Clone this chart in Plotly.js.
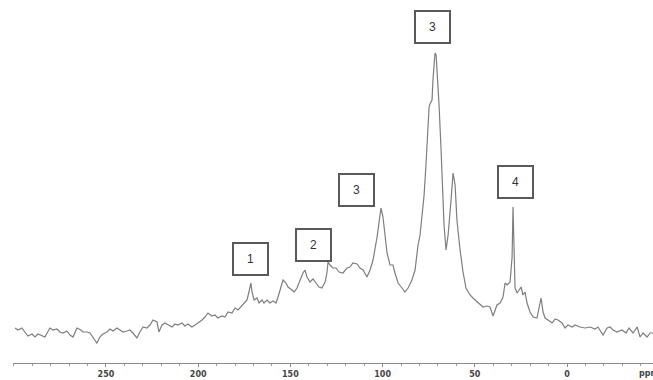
<!DOCTYPE html>
<html>
<head>
<meta charset="utf-8">
<script src="https://cdn.plot.ly/plotly-3.0.1.min.js"></script>
<style>html,body{margin:0;padding:0;background:#fff;}#chart{width:653px;height:380px;}</style>
</head>
<body>
<div id="chart"></div>
<script>
// Chemical shift (ppm)
const ppm = [
  299.3,297.7,295.6,293.9,292.3,290.1,288.5,286.9,284.7,283.1,
  280.4,278.7,276.6,274.9,273.3,271.2,269.5,267.9,265.7,263.6,
  262.5,260.3,258.7,257.0,254.9,253.3,251.6,249.5,247.8,246.2,
  244.0,242.4,240.8,238.6,237.0,235.4,233.2,231.6,229.9,227.8,
  226.1,224.5,222.3,221.3,219.6,218.0,216.4,
  214.2,212.6,211.0,208.8,207.2,205.5,203.4,201.7,200.1,197.9,
  196.3,194.7,192.5,190.9,189.3,187.1,185.5,183.8,181.7,180.0,
  178.4,176.2,174.6,173.5,172.5,171.4,170.8,169.7,168.1,167.0,
  165.4,164.3,162.7,161.1,159.4,157.8,156.7,155.1,154.0,152.4,
  151.3,149.1,148.0,146.4,144.8,143.2,142.1,141.0,139.4,137.7,
  136.1,134.5,132.9,131.2,130.2,129.6,128.5,126.9,125.3,123.6,
  121.5,119.3,117.7,116.1,113.9,112.3,110.6,108.5,106.8,105.2,
  103.0,102.0,100.9,99.8,98.7,97.6,96.0,94.4,93.3,91.6,
  89.5,87.9,86.2,84.1,82.4,80.8,79.7,78.6,77.5,76.5,
  75.4,74.8,74.3,73.2,72.7,72.1,71.6,71.0,70.5,69.4,
  68.3,67.2,66.7,65.6,64.5,62.9,61.8,60.7,59.7,58.0,
  56.4,54.8,52.6,51.0,48.3,
  47.2,45.6,43.4,41.8,40.1,38.0,36.3,34.7,33.6,32.5,
  30.9,29.8,29.3,28.7,28.2,27.1,26.0,24.9,23.9,22.8,
  21.7,20.1,18.4,16.3,15.2,14.1,13.0,11.9,10.3,8.1,
  6.5,4.9,2.7,1.1,-0.5,-2.7,-4.3,-7.0,-9.8,-12.5,
  -15.2,-16.8,-19.5,-21.7,-23.3,-24.9,-27.1,-29.8,-32.0,-33.6,
  -35.8,-38.0,-39.6,-41.2,-43.4,-45.0,-46.6
];
// Signal intensity (arbitrary units)
const intensity = [
  35,33,35,31,27,29,26,29,27,26,
  35,33,34,31,30,32,28,26,35,33,
  31,31,30,25,20,26,29,31,34,32,
  35,33,31,32,33,30,25,31,36,35,
  38,43,41,31,38,40,38,
  36,39,38,40,37,39,36,38,40,43,
  46,50,47,48,45,47,46,51,50,55,
  53,58,61,63,71,80,71,63,65,60,
  63,60,63,60,62,60,66,76,83,80,
  76,73,71,75,83,90,93,86,81,84,
  80,76,75,81,90,101,98,95,95,91,
  90,95,96,100,99,95,93,86,93,103,
  126,143,155,146,126,110,98,98,90,80,
  75,71,75,83,93,118,128,145,168,198,
  238,256,259,263,283,303,310,308,295,258,
  213,163,138,113,128,163,190,178,143,113,
  91,75,68,65,60,
  58,56,57,56,47,58,60,66,80,78,
  81,106,156,106,75,70,73,76,68,71,
  60,51,46,45,55,65,51,45,43,40,
  44,43,40,35,38,36,38,36,35,36,
  34,36,28,35,36,33,31,33,30,35,
  30,36,26,30,26,30,30
];
// Tick labels
const tickVals = [250, 200, 150, 100, 50, 0];
const tickLabels = ['250', '200', '150', '100', '50', '0'];
// Peak labels
const labelText = ['1', '2', '3', '3', '4'];
const labelPpm = [171.4, 137.7, 113.9, 73.2, 28.2];
const labelInt = [104, 118, 173, 336, 181];

const trace = {
  x: ppm, y: intensity, type: 'scatter', mode: 'lines',
  line: {color: '#7e7e7e', width: 1.2}, hoverinfo: 'skip'
};

const annotations = labelText.map((t, i) => ({
  x: labelPpm[i], y: labelInt[i], xref: 'x', yref: 'y',
  text: t, showarrow: false, width: 31, height: 28,
  bordercolor: '#5a5a5a', borderwidth: 2, borderpad: 1, bgcolor: '#ffffff',
  font: {family: 'Liberation Sans, Arial, sans-serif', size: 12, color: '#333'}
}));
annotations.push({
  x: (637 - 13) / 640, xref: 'paper', xanchor: 'left',
  y: 0, yref: 'paper', yanchor: 'top', yshift: -4,
  text: 'ppm', showarrow: false,
  font: {family: 'DejaVu Sans, sans-serif', size: 8, color: '#444', weight: 'bold'}
});

const layout = {
  width: 653, height: 380,
  margin: {l: 13, r: 0, t: 0, b: 17, pad: 0},
  paper_bgcolor: '#ffffff', plot_bgcolor: '#ffffff',
  showlegend: false,
  xaxis: {
    range: [300.4, -46.6], showgrid: false, zeroline: false,
    showline: true, linecolor: '#8a8a8a', linewidth: 1,
    ticks: 'outside', ticklen: 3, tickcolor: '#8a8a8a', tickwidth: 1,
    tickvals: tickVals, ticktext: tickLabels,
    tickfont: {family: 'DejaVu Sans, sans-serif', size: 8, color: '#444', weight: 'bold'},
    minor: {dtick: 10, tick0: 0, ticks: 'outside', ticklen: 2, tickcolor: '#9a9a9a', showgrid: false},
    fixedrange: true
  },
  yaxis: {
    range: [0, 363], visible: false, showgrid: false, zeroline: false, fixedrange: true
  },
  annotations: annotations
};

Plotly.newPlot('chart', [trace], layout, {displayModeBar: false, staticPlot: true});
</script>
</body>
</html>
